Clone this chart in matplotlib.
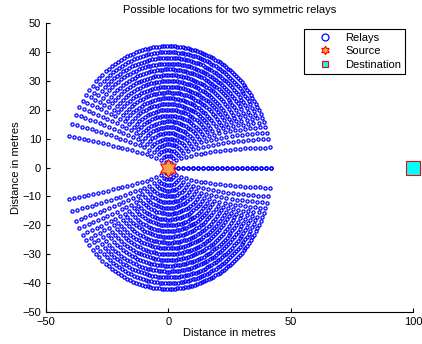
import numpy as np
import matplotlib
matplotlib.use("Agg")
import matplotlib.pyplot as plt
from matplotlib.path import Path
from matplotlib.lines import Line2D

plt.rcParams['font.family'] = ['Liberation Sans', 'DejaVu Sans']

# relay rings around the source: radius = source-relay distance (m)
radii = [2, 4, 6, 8, 10, 12, 14, 16, 18, 20, 22, 24, 26, 28, 30, 32, 34, 36, 38, 40, 42]
# on each ring the relay-destination distance goes up in 1 m steps
d2_step = 1.0
max_angle_deg = 167.5

source = (0, 0)
destination = (100, 0)

x_ticks = [-50, 0, 50, 100]
y_ticks = [-50, -40, -30, -20, -10, 0, 10, 20, 30, 40, 50]


def ring_points(r):
    D = destination[0] - source[0]
    d2 = np.arange(D - r, D + r, d2_step)
    c = (r**2 + D**2 - d2**2) / (2 * r * D)
    th = np.arccos(np.clip(c, -1, 1))
    th = th[th <= np.radians(max_angle_deg)]
    x = source[0] + r * np.cos(th)
    y = source[1] + r * np.sin(th)
    # the second relay is the mirror image
    return np.concatenate([x, x]), np.concatenate([y, -y])


def hexagram():
    ang = np.radians(90 + 30 * np.arange(12))
    rad = np.where(np.arange(12) % 2 == 0, 1.0, 1 / np.sqrt(3))
    verts = np.column_stack([rad * np.cos(ang), rad * np.sin(ang)])
    verts = np.vstack([verts, verts[:1]])
    codes = [Path.MOVETO] + [Path.LINETO] * 11 + [Path.CLOSEPOLY]
    return Path(verts, codes)


fig = plt.figure(figsize=(4.22, 3.44), dpi=100)
ax = fig.add_axes([0.109, 0.093, 0.870, 0.840])

xs, ys = [], []
for r in radii:
    x, y = ring_points(r)
    xs.append(x)
    ys.append(y)
xs = np.concatenate(xs)
ys = np.concatenate(ys)

ax.plot(xs, ys, 'o', ms=2.3, mfc='none', mec='b', mew=0.9)
star = hexagram()
ax.plot(source[0], source[1], marker=star, ms=13, mfc='#f9a24a', mec='r', mew=0.8,
        linestyle='none', zorder=5)
ax.plot(destination[0], destination[1], 's', ms=9.5, mfc='cyan', mec='r', mew=0.8,
        linestyle='none', clip_on=False, zorder=5)

ax.set_xlim(-50, 100)
ax.set_ylim(-50, 50)
ax.set_xticks(x_ticks)
ax.set_yticks(y_ticks)
ax.tick_params(direction='in', length=3, labelsize=8, width=0.8)
ax.spines['top'].set_visible(False)
ax.spines['right'].set_visible(False)
ax.set_xlabel("Distance in metres", fontsize=8, labelpad=1)
ax.set_ylabel("Distance in metres", fontsize=8, labelpad=1)
ax.set_title("Possible locations for two symmetric relays", fontsize=8, pad=7)

handles = [
    Line2D([], [], marker='o', ms=5, mfc='none', mec='b', mew=0.9, linestyle='none'),
    Line2D([], [], marker=star, ms=6, mfc='#f9a24a', mec='r', mew=0.8, linestyle='none'),
    Line2D([], [], marker='s', ms=5, mfc='cyan', mec='r', mew=0.8, linestyle='none'),
]
leg = ax.legend(handles, ["Relays", "Source", "Destination"], loc='upper right',
                bbox_to_anchor=(0.978, 0.979), borderaxespad=0, fontsize=8,
                fancybox=False, edgecolor='k', framealpha=1, borderpad=0.35,
                labelspacing=0.3, handletextpad=0.2, handlelength=3.2)
leg.get_frame().set_linewidth(0.8)

fig.savefig("out.png", dpi=100)
